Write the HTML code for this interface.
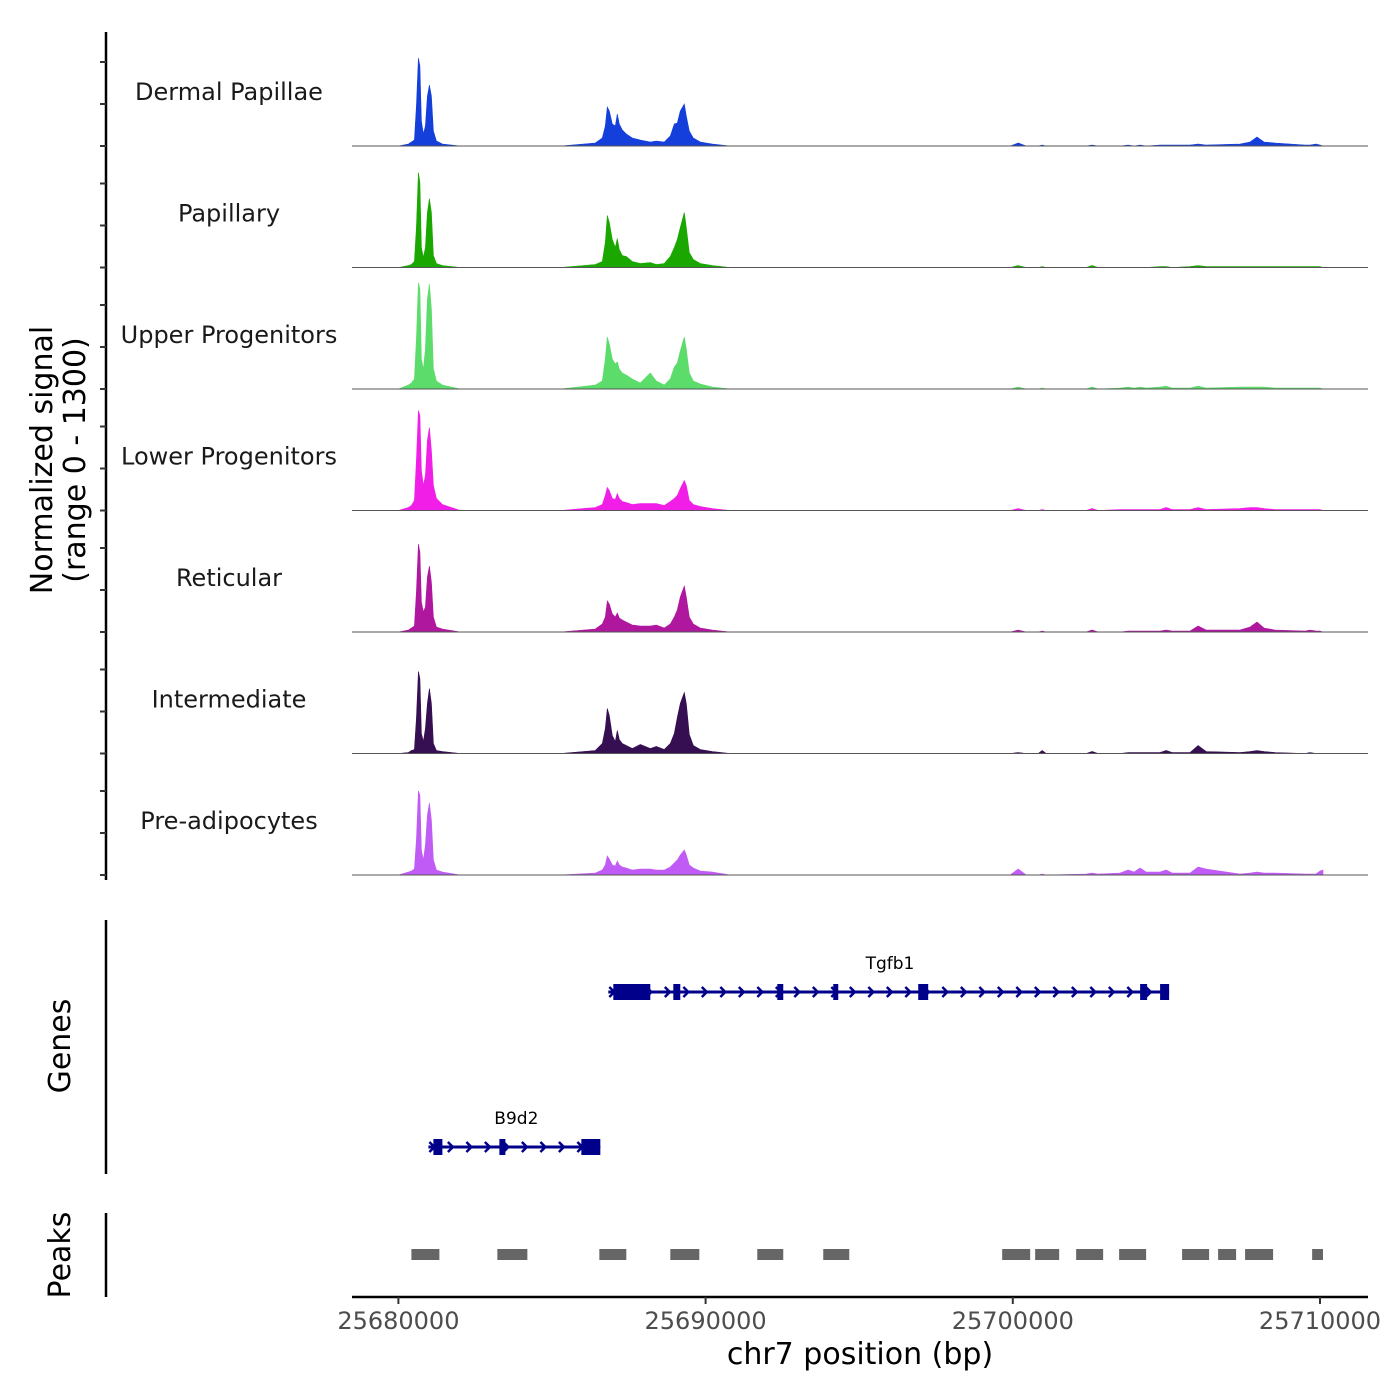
<!DOCTYPE html>
<html><head><meta charset="utf-8"><style>
html,body{margin:0;padding:0;background:#fff;}
svg{display:block;font-family:"DejaVu Sans","Liberation Sans",sans-serif;}
</style></head><body>
<svg id="chart" width="1400" height="1400" viewBox="0 0 1400 1400" xmlns="http://www.w3.org/2000/svg">
<g id="tracks"></g>
<g id="leftaxis"></g>
<text transform="translate(52,460) rotate(-90)" text-anchor="middle" font-size="30" fill="#000">Normalized signal</text>
<text transform="translate(85,460) rotate(-90)" text-anchor="middle" font-size="30" fill="#000">(range 0 - 1300)</text>
<g id="genes"></g>
<line x1="106" y1="920" x2="106" y2="1174" stroke="#000" stroke-width="2.5"/>
<text transform="translate(70,1046) rotate(-90)" text-anchor="middle" font-size="30" fill="#000">Genes</text>
<g id="peaks"></g>
<line x1="106" y1="1213" x2="106" y2="1297" stroke="#000" stroke-width="2.5"/>
<text transform="translate(70,1255) rotate(-90)" text-anchor="middle" font-size="30" fill="#000">Peaks</text>
<g id="xaxis"></g>
<text x="860" y="1364" text-anchor="middle" font-size="30" fill="#000">chr7 position (bp)</text>
</svg>
<script>
const regionStart = 25680000;
const xTicks = [25680000, 25690000, 25700000, 25710000];
const trackNames = ["Dermal Papillae","Papillary","Upper Progenitors","Lower Progenitors","Reticular","Intermediate","Pre-adipocytes"];
const trackColors = ["#153fdb","#1aa800","#5cdc6a","#f01ee6","#b0179f","#360e52","#c05cf5"];
const binOffsets = [0,325,423,521,586,651,700,748,814,879,944,1009,1074,1139,1237,1432,2017,5271,6410,6638,6736,6801,6866,6964,7061,7126,7191,7289,7419,7614,7875,8200,8395,8656,8851,8981,9079,9176,9306,9371,9469,9599,9827,10218,10803,19914,20175,20435,20826,20956,21086,22388,22583,22778,23494,23754,23949,24145,24340,24795,24990,25185,25771,26031,26291,27397,27723,27950,28178,28536,29512,29674,29870,30000,30098];
const dermalPapillae = [0,20,40,60,400,880,800,250,120,200,500,610,500,150,50,20,0,0,30,80,200,390,350,220,200,320,220,160,120,80,60,40,50,40,100,220,230,350,420,300,150,80,40,20,0,0,30,0,0,10,0,0,10,0,0,10,0,10,0,10,10,10,10,20,10,20,40,90,40,30,10,10,20,10,0];
const papillary = [0,20,30,60,400,950,850,200,100,200,550,690,550,120,40,20,0,0,30,60,250,520,450,280,200,290,180,120,110,60,40,50,30,40,110,200,280,400,550,400,150,80,40,20,0,0,20,0,0,10,0,0,20,0,0,0,0,0,0,10,10,0,10,20,10,10,10,10,10,10,10,10,10,10,0];
const upperProgenitors = [0,40,60,100,500,1060,1000,300,200,400,900,1050,800,200,80,40,0,0,40,80,300,520,450,300,250,270,200,160,140,100,60,160,80,40,100,220,260,380,520,400,160,80,50,20,0,0,20,0,0,10,0,0,20,0,10,20,10,20,10,20,30,10,10,30,10,20,20,20,20,10,10,10,10,10,0];
const lowerProgenitors = [0,30,50,100,500,1000,950,400,250,350,700,830,600,250,120,60,0,0,30,60,150,230,200,120,110,170,120,90,80,60,70,70,70,50,90,120,150,220,300,250,100,60,40,20,0,0,20,0,0,10,0,0,20,0,10,10,10,10,10,10,30,10,10,30,10,20,30,30,20,10,10,10,10,10,0];
const reticular = [0,20,40,60,400,880,800,300,200,250,550,660,500,150,50,30,0,0,30,80,150,310,280,180,150,190,140,120,100,70,60,60,70,40,80,150,220,350,460,350,150,80,40,20,0,0,20,0,0,10,0,0,20,0,0,10,10,10,10,10,20,10,10,60,20,20,50,100,40,20,10,20,10,10,0];
const intermediate = [0,10,30,40,350,820,750,200,120,250,500,650,500,100,30,20,0,0,30,100,250,450,380,180,120,230,140,100,80,50,90,50,70,40,100,200,360,500,610,500,190,80,40,20,0,0,10,0,0,30,0,0,20,0,0,10,10,10,10,10,30,10,10,80,20,10,20,30,20,10,0,10,0,0,0];
const preAdipocytes = [0,30,40,60,350,840,800,250,150,300,600,720,550,150,50,30,0,0,20,50,100,190,160,100,90,140,100,80,70,50,60,60,50,50,80,120,150,200,250,200,100,70,40,30,0,0,60,0,0,10,0,10,20,10,20,50,30,70,30,30,50,20,20,80,60,10,20,30,20,20,10,10,10,40,50];
const trackValues = [dermalPapillae,papillary,upperProgenitors,lowerProgenitors,reticular,intermediate,preAdipocytes];
const peakStarts = [423,3221,6541,8851,11682,13830,19654,20728,22062,23461,25511,26683,27561,29744];
const peakEnds = [1334,4198,7419,9795,12528,14676,20565,21509,22941,24340,26390,27269,28473,30098];
const geneNames = ["Tgfb1","B9d2"];
const geneStarts = [6833,976];
const geneEnds = [25088,6573];
const tgfb1ExonStarts = [6996,8949,12333,14155,16921,24145,24795];
const tgfb1ExonEnds = [8200,9176,12528,14318,17246,24372,25088];
const b9d2ExonStarts = [1139,3287,5955];
const b9d2ExonEnds = [1432,3482,6573];
const geneExonStarts = [tgfb1ExonStarts,b9d2ExonStarts];
const geneExonEnds = [tgfb1ExonEnds,b9d2ExonEnds];
const signalMax = 1300;

const NS = "http://www.w3.org/2000/svg";
const x0px = 398.4, pxPerBp = (1320 - 398.4) / 30000;
function xScale(bp){ return x0px + (bp - regionStart) * pxPerBp; }
function xOff(off){ return xScale(regionStart + off); }
const trackBase = [146,267.5,389,510.5,632,753.5,875];
function yScale(v, t){ return trackBase[t] - v / signalMax * 130; }
function mk(tag, attrs, parent){ const e=document.createElementNS(NS,tag); for(const k in attrs) e.setAttribute(k,attrs[k]); parent.appendChild(e); return e; }

const gT = document.getElementById('tracks');
trackNames.forEach((name,t)=>{
  const vals = trackValues[t];
  let d = "M" + xOff(binOffsets[0]).toFixed(1) + "," + trackBase[t];
  for(let i=0;i<binOffsets.length;i++){ d += " L" + xOff(binOffsets[i]).toFixed(1) + "," + yScale(vals[i],t).toFixed(1); }
  d += " L" + xOff(binOffsets[binOffsets.length-1]).toFixed(1) + "," + trackBase[t] + " Z";
  const p = mk('path',{d:d,fill:trackColors[t],stroke:trackColors[t],'stroke-width':0.6},gT);
  
  
  const bl = mk('line',{x1:352,x2:1368,y1:trackBase[t],y2:trackBase[t],stroke:'#555','stroke-width':1},gT);
  
  
  const lab = mk('text',{x:229,y:trackBase[t]-46,'text-anchor':'middle','font-size':24,fill:'#1a1a1a'},gT);
  lab.textContent = name;
  
  
});

const gA = document.getElementById('leftaxis');
const ax = mk('line',{x1:106,x2:106,y1:32,y2:880,stroke:'#000','stroke-width':2.5},gA);


trackBase.forEach(b=>{
  [0,42,84].forEach(o=>{
    const tk = mk('line',{x1:100,x2:106,y1:b-o,y2:b-o,stroke:'#333','stroke-width':2},gA);
    
    
  });
});

const gG = document.getElementById('genes');
const geneY = [992,1147];
geneNames.forEach((g,i)=>{
  const y = geneY[i];
  const s = xOff(geneStarts[i]), e = xOff(geneEnds[i]);
  const ln = mk('line',{x1:s,x2:e,y1:y,y2:y,stroke:'#00008b','stroke-width':3},gG);
  
  
  for(let cx=s+4; cx<e-4; cx+=18.5){
    const ch = mk('path',{d:`M${cx-3},${y-5} L${cx+2},${y} L${cx-3},${y+5}`,fill:'none',stroke:'#00008b','stroke-width':2.5},gG);
    
    
  }
  geneExonStarts[i].forEach((es,j)=>{
    const a = xOff(es), b = xOff(geneExonEnds[i][j]);
    const r = mk('rect',{x:a,y:y-8,width:Math.max(b-a,3),height:16,fill:'#00008b'},gG);
    
    
  });
  const lab = mk('text',{x:(s+e)/2 + 2,y:y-23,'text-anchor':'middle','font-size':17,fill:'#000'},gG);
  if(i===0) lab.setAttribute('x', 890);
  lab.textContent = g;
  
  
});

const gP = document.getElementById('peaks');
peakStarts.forEach((ps,i)=>{
  const a = xOff(ps), b = xOff(peakEnds[i]);
  const r = mk('rect',{x:a,y:1249,width:b-a,height:11,fill:'#666'},gP);
  
  
});

const gX = document.getElementById('xaxis');
const xl = mk('line',{x1:352,x2:1368,y1:1297,y2:1297,stroke:'#000','stroke-width':2.5},gX);


xTicks.forEach(v=>{
  const x = xScale(v);
  const tk = mk('line',{x1:x,x2:x,y1:1297,y2:1304,stroke:'#333','stroke-width':2},gX);
  
  
  const t = mk('text',{x:x,y:1329,'text-anchor':'middle','font-size':24,fill:'#4d4d4d'},gX);
  t.textContent = String(v);
  
  
});
</script>
</body></html>
